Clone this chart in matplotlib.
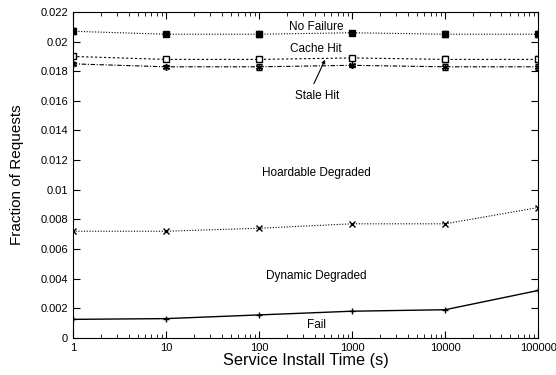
import numpy as np
import matplotlib.pyplot as plt

plt.rcParams['font.family'] = ['Liberation Sans', 'DejaVu Sans']

install_time = [1, 10, 100, 1000, 10000, 100000]
no_failure = [0.0207, 0.0205, 0.0205, 0.0206, 0.0205, 0.0205]
no_failure_err = [0.0002, 0.0001, 0.0002, 0.0001, 0.0002, 0.0002]
cache_hit = [0.0190, 0.0188, 0.0188, 0.0189, 0.0188, 0.0188]
cache_hit_err = [0.0001, 0.0001, 0.0001, 0.0001, 0.0002, 0.0002]
stale_hit = [0.0185, 0.0183, 0.0183, 0.0184, 0.0183, 0.0183]
stale_hit_err = [0.0001, 0.0001, 0.0002, 0.0001, 0.0002, 0.0002]
hoardable = [0.0072, 0.0072, 0.0074, 0.0077, 0.0077, 0.0088]
fail = [0.00125, 0.0013, 0.00155, 0.0018, 0.0019, 0.0032]

fig = plt.figure(figsize=(5.56, 3.75), dpi=100)
ax = fig.add_axes([0.131, 0.099, 0.837, 0.869])

ax.errorbar(install_time, no_failure, yerr=no_failure_err, color='black', ls=(0, (1, 1.5)),
            lw=0.8, marker='s', ms=4, capsize=2, elinewidth=0.8)
ax.errorbar(install_time, cache_hit, yerr=cache_hit_err, color='black', ls=(0, (2, 2)),
            lw=0.8, marker='s', mfc='white', ms=4, capsize=2, elinewidth=0.8)
ax.errorbar(install_time, stale_hit, yerr=stale_hit_err, color='black', ls=(0, (4, 1.5, 1, 1.5)),
            lw=0.8, marker=(6, 2, 0), ms=5, capsize=2, elinewidth=0.8)
ax.plot(install_time, hoardable, color='black', ls=(0, (1, 1.5)), lw=0.8, marker='x', ms=4)
ax.plot(install_time, fail, color='black', ls='-', lw=1.0, marker='+', ms=5)

ax.set_xscale('log')
ax.set_xlim(1, 100000)
ax.set_ylim(0, 0.022)
ax.set_yticks(np.arange(0, 0.0221, 0.002))
ax.set_yticklabels(['0', '0.002', '0.004', '0.006', '0.008', '0.01', '0.012',
                    '0.014', '0.016', '0.018', '0.02', '0.022'])
ax.set_xticks(install_time)
ax.set_xticklabels([str(t) for t in install_time])
ax.tick_params(which='both', direction='in', top=True, right=True, labelsize=8)
ax.tick_params(which='major', length=5)
ax.tick_params(which='minor', length=3)

ax.set_xlabel('Service Install Time (s)', fontsize=11.7, labelpad=0)
ax.set_ylabel('Fraction of Requests', fontsize=11, labelpad=12)

fs = 8.5
ax.text(410, 0.0210, 'No Failure', ha='center', va='center', fontsize=fs)
ax.text(410, 0.01953, 'Cache Hit', ha='center', va='center', fontsize=fs)
ax.text(420, 0.01635, 'Stale Hit', ha='center', va='center', fontsize=fs)
ax.annotate('', xy=(513, 0.01878), xytext=(389, 0.01716),
            arrowprops=dict(arrowstyle='-|>', color='black', lw=0.8, mutation_scale=5,
                            shrinkA=0, shrinkB=0))
ax.text(410, 0.0111, 'Hoardable Degraded', ha='center', va='center', fontsize=fs)
ax.text(410, 0.0042, 'Dynamic Degraded', ha='center', va='center', fontsize=fs)
ax.text(410, 0.0009, 'Fail', ha='center', va='center', fontsize=fs)

fig.savefig('out.png', dpi=100)
